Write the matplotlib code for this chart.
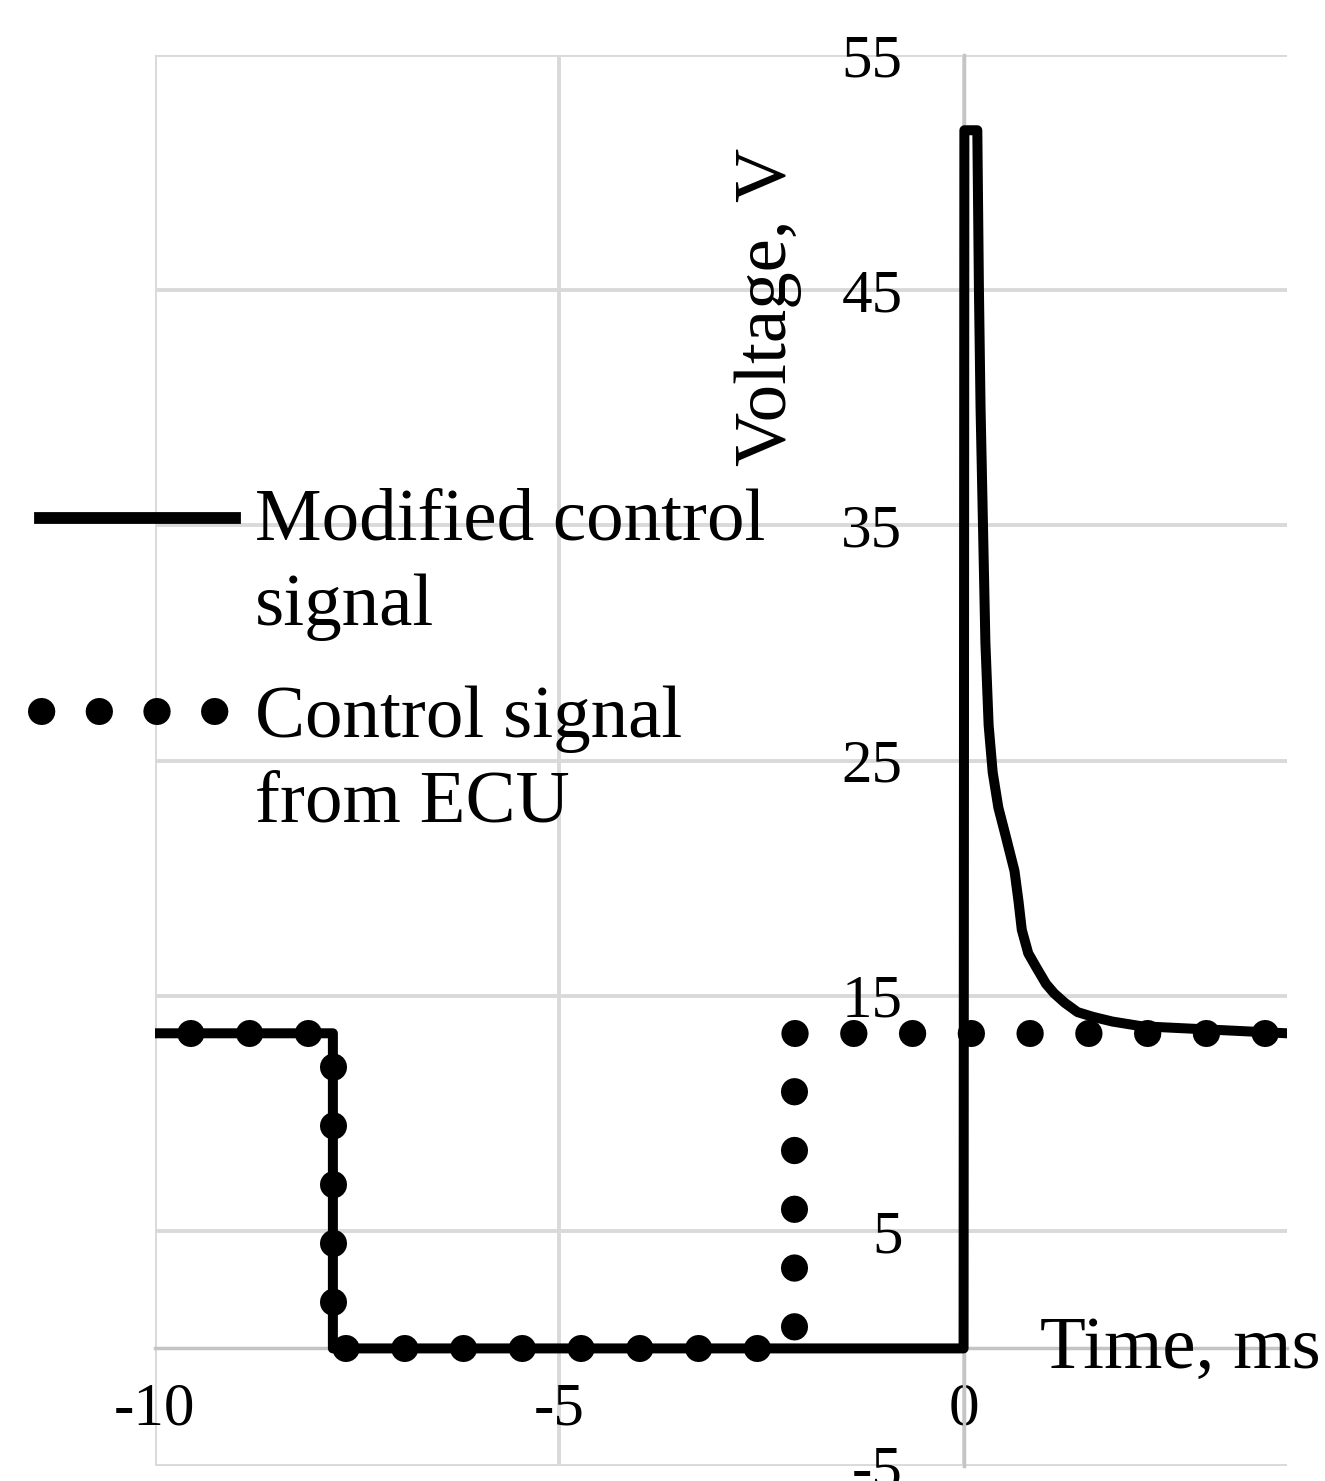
import numpy as np
import matplotlib
matplotlib.use("Agg")
import matplotlib.pyplot as plt
from matplotlib.lines import Line2D

plt.rcParams['font.family'] = ['Liberation Serif', 'DejaVu Serif']
plt.rcParams['axes.unicode_minus'] = False

# --- data ---
t_modified = [-10.0, -7.8, -7.8, 0.0, 0.0, 0.01, 0.17, 0.19, 0.21, 0.24, 0.27,
              0.31, 0.36, 0.43, 0.52, 0.63, 0.68, 0.72, 0.80, 0.90, 1.02,
              1.12, 1.25, 1.41, 1.60, 1.84, 2.20, 2.80, 3.40, 4.0]
v_modified = [13.4, 13.4, 0.0, 0.0, 0.0, 51.8, 51.8, 45.0, 40.0, 35.0, 30.0,
              26.5, 24.5, 23.0, 21.8, 20.3, 19.0, 17.8, 16.8, 16.2, 15.5,
              15.1, 14.7, 14.3, 14.1, 13.9, 13.7, 13.6, 13.5, 13.4]

t_ecu = [-10.0, -7.8, -7.8, -2.1, -2.1, 4.0]
v_ecu = [13.4, 13.4, 0.0, 0.0, 13.4, 13.4]

x_ticks = [-10, -5, 0]
y_ticks = [-5, 5, 15, 25, 35, 45, 55]

legend_lines = [['Modified control', 'signal'], ['Control signal', 'from ECU']]

W, H = 1325, 1481
fig = plt.figure(figsize=(W / 100, H / 100), dpi=100)
ax = fig.add_axes([155 / W, 1 - 1466 / H, (1287 - 155) / W, (1466 - 55) / H])

grid_c = '#d9d9d9'
axis_c = '#c4c4c4'

ax.set_xlim(-10, 4)
ax.set_ylim(-5, 55)
ax.set_xticks(x_ticks)
ax.set_yticks(y_ticks)
ax.grid(True, color=grid_c, linewidth=2.8)
ax.set_axisbelow(True)

for s in ['top', 'right']:
    ax.spines[s].set_visible(False)
ax.spines['left'].set_position(('data', 0))
ax.spines['bottom'].set_position(('data', 0))
ax.spines['left'].set_color(axis_c)
ax.spines['bottom'].set_color(axis_c)
ax.spines['left'].set_linewidth(2.5)
ax.spines['bottom'].set_linewidth(2.5)

ax.tick_params(axis='y', length=0, pad=44, labelsize=44)
ax.tick_params(axis='x', length=0, pad=24, labelsize=44)

# ECU control signal (round dots)
dot_lw = 19.5
ax.plot(t_ecu, v_ecu, color='black', linewidth=dot_lw,
        linestyle=(0.87, (0.01, 2.16)), dash_capstyle='round', zorder=4)
# modified control signal
ax.plot(t_modified, v_modified, color='black', linewidth=7.2,
        solid_joinstyle='round', zorder=3)

# axis titles
ax.text((1040 - 155) / 1132, (1466 - 1368) / 1411, 'Time, ms', transform=ax.transAxes,
        fontsize=54, ha='left', va='baseline')
ax.text((768 - 155) / 1132, (1466 - 307) / 1411, 'Voltage, V', transform=ax.transAxes,
        fontsize=54, rotation=90, ha='center', va='center')

# legend, drawn by hand so the samples sit on the first text line
fig.add_artist(Line2D([40 / W, 235 / W], [1 - 518 / H, 1 - 518 / H], color='black',
                      linewidth=8.5, transform=fig.transFigure))
fig.add_artist(Line2D([41 / W, 222 / W], [1 - 711 / H, 1 - 711 / H], color='black',
                      linewidth=dot_lw, linestyle=(0, (0.01, 2.12)),
                      dash_capstyle='round', transform=fig.transFigure))
for lines, y0 in zip(legend_lines, [540, 737]):
    for i, line in enumerate(lines):
        fig.text(255 / W, 1 - (y0 + 85 * i) / H, line, fontsize=54,
                 ha='left', va='baseline')

fig.savefig('out.png', dpi=100)
